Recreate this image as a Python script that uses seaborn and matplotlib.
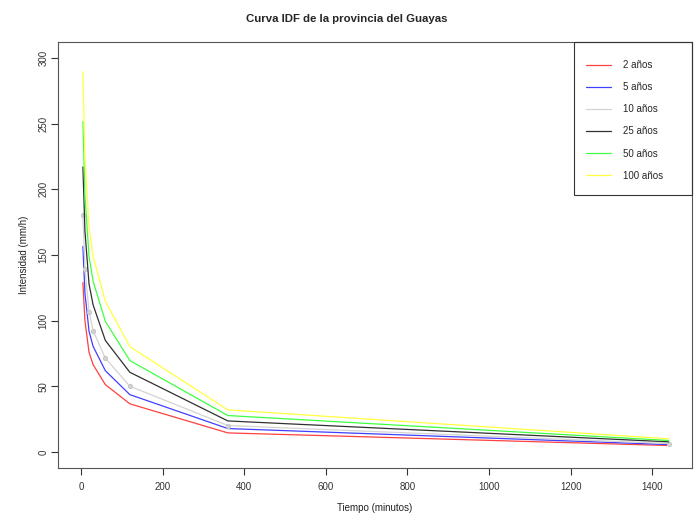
import matplotlib
matplotlib.use('Agg')
import matplotlib.pyplot as plt
import matplotlib.font_manager as fm
from matplotlib.patches import Rectangle
import seaborn as sns
import pandas as pd

sns.set_style('white')

# buscar la Liberation Sans normal (no la Narrow)
fuente = 'DejaVu Sans'
for f in fm.findSystemFonts():
    if f.endswith('LiberationSans-Regular.ttf'):
        fm.fontManager.addfont(f)
        fuente = fm.FontProperties(fname=f).get_name()
        break
plt.rcParams['font.family'] = [fuente, 'DejaVu Sans']

# duraciones (minutos) e intensidades (mm/h) por periodo de retorno
tiempo = [5, 10, 20, 30, 60, 120, 360, 1440]
i_2 = [129, 100, 76, 66.6, 51.4, 36.8, 14.7, 5.1]
i_5 = [156.5, 121, 92, 80.5, 62, 43.8, 18.0, 5.8]
i_10 = [180.6, 139.6, 107, 92.5, 71.5, 50.2, 20.3, 6.6]
i_25 = [217, 168, 128, 112, 85, 60.8, 23.8, 7.9]
i_50 = [251.5, 195, 149, 130, 99.5, 69.7, 27.9, 8.9]
i_100 = [289.5, 224, 171, 149, 114.8, 80.3, 32.2, 10.2]

etiquetas = ['2 años', '5 años', '10 años', '25 años', '50 años', '100 años']
colores = ['#ff4040', '#4040ff', '#d3d3d3', '#303030', '#40ff40', '#ffff40']

series = [i_2, i_5, i_10, i_25, i_50, i_100]
df = pd.concat(
    [pd.DataFrame({'Tiempo': tiempo, 'Intensidad': s, 'Periodo': e})
     for s, e in zip(series, etiquetas)],
    ignore_index=True)

W, H = 694, 514
fig = plt.figure(figsize=(W / 100, H / 100), dpi=100)
ax = fig.add_axes([58/W, 1 - 468/H, 634/W, 426/H])

for e, c in zip(etiquetas, colores):
    sub = df[df['Periodo'] == e]
    kw = dict(marker='o', markersize=3, markerfacecolor=c,
              markeredgecolor='#c8c8c8') if e == '10 años' else {}
    sns.lineplot(data=sub, x='Tiempo', y='Intensidad', color=c, lw=0.9,
                 label=e, ax=ax, **kw)

ax.set_xlim(-56, 1497)
ax.set_ylim(-12, 312)
ax.set_xticks(range(0, 1401, 200))
ax.set_yticks(range(0, 301, 50))
ax.set_yticklabels([str(v) for v in range(0, 301, 50)], rotation=90, va='center')
ax.tick_params(axis='both', direction='out', length=5, width=0.8,
               color='#333333', labelsize=7, labelcolor='#333333',
               bottom=True, left=True)
ax.tick_params(axis='x', pad=5)
ax.tick_params(axis='y', pad=2)
for sp in ax.spines.values():
    sp.set_color('#555555')
    sp.set_linewidth(0.8)

ax.set_xlabel('Tiempo (minutos)', fontsize=7, color='#222222', labelpad=8)
ax.set_ylabel('Intensidad (mm/h)', fontsize=7, color='#222222', labelpad=7)
fig.suptitle('Curva IDF de la provincia del Guayas', x=0.5, y=0.973,
             fontsize=8.2, fontweight='bold')

# leyenda estilo R: caja con margen derecho amplio
leg = ax.legend(loc='upper left', bbox_to_anchor=(586/W, 1 - 60/H),
                bbox_transform=fig.transFigure, fontsize=7, frameon=False,
                borderpad=0, labelspacing=1.25, handlelength=2.6,
                handletextpad=1.2, borderaxespad=0)
for line in leg.get_lines():
    line.set_marker('')
fig.add_artist(Rectangle((574/W, 1 - 195/H), 118/W, 153/H,
                         transform=fig.transFigure, fill=False,
                         edgecolor='#333333', linewidth=0.8))

fig.savefig('out.png', dpi=100)
